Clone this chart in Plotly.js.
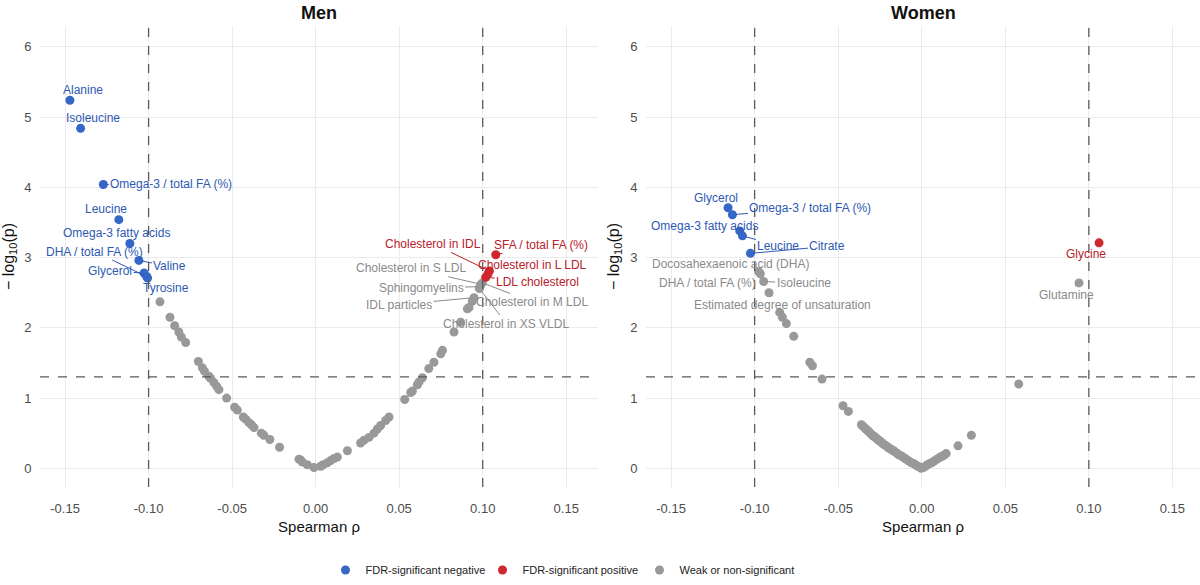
<!DOCTYPE html>
<html>
<head>
<meta charset="utf-8">
<script src="https://cdn.plot.ly/plotly-3.0.1.min.js"></script>
<style>
  html, body { margin: 0; padding: 0; background: #fff; }
  #chart { width: 1200px; height: 585px; }
</style>
</head>
<body>
<div id="chart"></div>
<script>
// ---- data ----
var xTicks = [-0.15, -0.10, -0.05, 0.00, 0.05, 0.10, 0.15];
var xTickText = ["-0.15", "-0.10", "-0.05", "0.00", "0.05", "0.10", "0.15"];
var yTicks = [0, 1, 2, 3, 4, 5, 6];
var rhoCut = 0.1;
var pCut = 1.301; // -log10(0.05)

// Men
var menBlueX = [-0.1471, -0.1407, -0.1271, -0.1178, -0.1112, -0.1012, -0.1058, -0.1027, -0.1006];
var menBlueY = [5.24, 4.84, 4.04, 3.54, 3.20, 2.73, 2.96, 2.78, 2.71];
var menBlueLab = ["Alanine", "Isoleucine", "Omega-3 / total FA (%)", "Leucine", "Omega-3 fatty acids",
                  "DHA / total FA (%)", "Valine", "Glycerol", "Tyrosine"];

var menRedX = [0.1078, 0.1040, 0.1032, 0.1018];
var menRedY = [3.04, 2.81, 2.77, 2.72];
var menRedLab = ["SFA / total FA (%)", "Cholesterol in IDL", "Cholesterol in L LDL", "LDL cholesterol"];

var menGrayX = [-0.0932, -0.0872, -0.0844, -0.0819, -0.0804, -0.0778, -0.0702, -0.0678, -0.0665, -0.0639,
                -0.0629, -0.0609, -0.0593, -0.0579, -0.0533, -0.0485, -0.0469, -0.0433, -0.0419, -0.0399,
                -0.0385, -0.0369, -0.0325, -0.0310, -0.0274, -0.0216, -0.0100, -0.0090, -0.0080, -0.0050,
                -0.0010, 0.0030, 0.0045, 0.0070, 0.0090, 0.0110, 0.0130, 0.0190, 0.0269, 0.0289,
                0.0319, 0.0349, 0.0369, 0.0389, 0.0419, 0.0439, 0.0533, 0.0569, 0.0579, 0.0609,
                0.0619, 0.0639, 0.0677, 0.0708, 0.0749, 0.0759, 0.0828, 0.0868, 0.0908, 0.0918,
                0.0938, 0.0948, 0.0984, 0.0990, 0.0998, 0.0980];
var menGrayY = [2.37, 2.15, 2.03, 1.94, 1.87, 1.79, 1.52, 1.43, 1.38, 1.31,
                1.28, 1.22, 1.17, 1.12, 1.00, 0.87, 0.83, 0.73, 0.70, 0.65,
                0.62, 0.58, 0.50, 0.47, 0.41, 0.30, 0.13, 0.12, 0.09, 0.05,
                0.01, 0.03, 0.05, 0.08, 0.11, 0.14, 0.16, 0.25, 0.36, 0.40,
                0.44, 0.50, 0.56, 0.61, 0.68, 0.73, 0.98, 1.08, 1.10, 1.19,
                1.23, 1.29, 1.42, 1.51, 1.63, 1.68, 1.94, 2.08, 2.27, 2.29,
                2.38, 2.43, 2.585, 2.62, 2.64, 2.56];
var menGrayLab = ["", "", "", "", "", "", "", "", "", "",
                  "", "", "", "", "", "", "", "", "", "",
                  "", "", "", "", "", "", "", "", "", "",
                  "", "", "", "", "", "", "", "", "", "",
                  "", "", "", "", "", "", "", "", "", "",
                  "", "", "", "", "", "", "", "", "", "",
                  "", "IDL particles", "Sphingomyelins", "Cholesterol in S LDL", "Cholesterol in M LDL", "Cholesterol in XS VLDL"];

// Women
var womenBlueX = [-0.1159, -0.1133, -0.1089, -0.1073, -0.1025];
var womenBlueY = [3.71, 3.61, 3.38, 3.31, 3.06];
var womenBlueLab = ["Glycerol", "Omega-3 / total FA (%)", "Omega-3 fatty acids", "Leucine", "Citrate"];

var womenRedX = [0.1061];
var womenRedY = [3.21];
var womenRedLab = ["Glycine"];

var womenGrayX = [-0.0976, -0.0966, -0.0946, -0.0914, -0.0850, -0.0834, -0.0810, -0.0766, -0.0670, -0.0654,
                  -0.0597, -0.0471, -0.0439, -0.0361, -0.0352, -0.0343, -0.0334, -0.0325, -0.0317, -0.0308,
                  -0.0300, -0.0290, -0.0282, -0.0272, -0.0263, -0.0255, -0.0246, -0.0236, -0.0228, -0.0218,
                  -0.0208, -0.0198, -0.0188, -0.0178, -0.0168, -0.0158, -0.0146, -0.0135, -0.0125, -0.0112,
                  -0.0100, -0.0088, -0.0075, -0.0062, -0.0050, -0.0038, -0.0025, -0.0012, -0.0003, 0.0010,
                  0.0022, 0.0035, 0.0048, 0.0060, 0.0072, 0.0085, 0.0098, 0.0110, 0.0122, 0.0135,
                  0.0146, 0.0217, 0.0297, 0.0580, 0.0941];
var womenGrayY = [2.80, 2.77, 2.66, 2.50, 2.22, 2.15, 2.06, 1.88, 1.51, 1.46,
                  1.27, 0.89, 0.81, 0.62, 0.60, 0.58, 0.56, 0.54, 0.52, 0.50,
                  0.48, 0.46, 0.45, 0.43, 0.41, 0.39, 0.38, 0.36, 0.34, 0.33,
                  0.31, 0.29, 0.28, 0.26, 0.25, 0.23, 0.21, 0.19, 0.18, 0.16,
                  0.14, 0.12, 0.10, 0.08, 0.07, 0.05, 0.03, 0.02, 0.00, 0.01,
                  0.03, 0.05, 0.07, 0.08, 0.10, 0.12, 0.14, 0.16, 0.17, 0.19,
                  0.21, 0.32, 0.47, 1.20, 2.64];
var womenGrayLab = ["Docosahexaenoic acid (DHA)", "DHA / total FA (%)", "Isoleucine", "Estimated degree of unsaturation", "", "", "", "", "", "",
                    "", "", "", "", "", "", "", "", "", "",
                    "", "", "", "", "", "", "", "", "", "",
                    "", "", "", "", "", "", "", "", "", "",
                    "", "", "", "", "", "", "", "", "", "",
                    "", "", "", "", "", "", "", "", "", "",
                    "", "", "", "", "Glutamine"];

// ---- label offsets (pixels, label centre relative to point) ----
var labelOffset = {
  "x|Alanine": [13, -10], "x|Isoleucine": [12, -10], "x|Omega-3 / total FA (%)": [68, -1],
  "x|Leucine": [-13, -11], "x|Omega-3 fatty acids": [-13, -11], "x|DHA / total FA (%)": [-52, -25],
  "x|Valine": [31, 6], "x|Glycerol": [-34, -2], "x|Tyrosine": [18, 10],
  "x|SFA / total FA (%)": [45, -10], "x|Cholesterol in IDL": [-56, -27],
  "x|Cholesterol in L LDL": [44, -9], "x|LDL cholesterol": [52, 5],
  "x|IDL particles": [-75, 7], "x|Sphingomyelins": [-59, 1], "x|Cholesterol in S LDL": [-70, -16],
  "x|Cholesterol in M LDL": [50, 19], "x|Cholesterol in XS VLDL": [27, 35],
  "x2|Glycerol": [-12, -10], "x2|Omega-3 / total FA (%)": [78, -7], "x2|Omega-3 fatty acids": [-35, -5],
  "x2|Leucine": [36, 10], "x2|Citrate": [77, -7], "x2|Glycine": [-13, 11],
  "x2|Docosahexaenoic acid (DHA)": [-28, -8], "x2|DHA / total FA (%)": [-53, 9],
  "x2|Isoleucine": [40, 2], "x2|Estimated degree of unsaturation": [13, 12], "x2|Glutamine": [-13, 12]
};

var blue = "#3567c6", red = "#d0262d", grey = "#999999";
var blueTxt = "#2d59b3", redTxt = "#b8202a", greyTxt = "#8a8a8a";
var font = "Liberation Sans, Arial, sans-serif";

function pts(x, y, color, name, xa, ya, show){
    return {
        x: x, y: y, type: 'scatter', mode: 'markers', name: name,
        legendgroup: name, showlegend: show, xaxis: xa, yaxis: ya,
        marker: {color: color, size: 9}, hoverinfo: 'skip'
    };
}

var annotations = [];
function labels(x, y, lab, color, xa, ya){
    for(var i = 0; i < lab.length; i++){
        if(lab[i] == "") continue;
        var off = labelOffset[xa + "|" + lab[i]] || [0, -12];
        annotations.push({
            x: x[i], y: y[i], xref: xa, yref: ya, text: lab[i],
            showarrow: true, arrowhead: 0, arrowwidth: 1, arrowcolor: color,
            ax: off[0], ay: off[1], standoff: 3, startstandoff: 0,
            font: {family: font, size: 12, color: color}
        });
    }
}

var data = [
    pts(menGrayX, menGrayY, grey, "Weak or non-significant", 'x', 'y', false),
    pts(menBlueX, menBlueY, blue, "FDR-significant negative", 'x', 'y', true),
    pts(menRedX, menRedY, red, "FDR-significant positive", 'x', 'y', true),
    pts(womenGrayX, womenGrayY, grey, "Weak or non-significant", 'x2', 'y2', true),
    pts(womenBlueX, womenBlueY, blue, "FDR-significant negative", 'x2', 'y2', false),
    pts(womenRedX, womenRedY, red, "FDR-significant positive", 'x2', 'y2', false)
];

labels(menGrayX, menGrayY, menGrayLab, greyTxt, 'x', 'y');
labels(menBlueX, menBlueY, menBlueLab, blueTxt, 'x', 'y');
labels(menRedX, menRedY, menRedLab, redTxt, 'x', 'y');
labels(womenGrayX, womenGrayY, womenGrayLab, greyTxt, 'x2', 'y2');
labels(womenBlueX, womenBlueY, womenBlueLab, blueTxt, 'x2', 'y2');
labels(womenRedX, womenRedY, womenRedLab, redTxt, 'x2', 'y2');

annotations.push({text: "<b>Men</b>", xref: 'x domain', yref: 'paper', x: 0.5, y: 1,
    yanchor: 'bottom', yshift: 1, showarrow: false, font: {family: font, size: 18, color: '#111'}});
annotations.push({text: "<b>Women</b>", xref: 'x2 domain', yref: 'paper', x: 0.5, y: 1,
    yanchor: 'bottom', yshift: 1, showarrow: false, font: {family: font, size: 18, color: '#111'}});

var shapes = [];
['x', 'x2'].forEach(function(xa, k){
    var ya = k == 0 ? 'y' : 'y2';
    [-rhoCut, rhoCut].forEach(function(v){
        shapes.push({type: 'line', xref: xa, yref: ya + ' domain', x0: v, x1: v, y0: 0, y1: 1,
            line: {color: '#5a5a5a', width: 1.3, dash: 'dash'}});
    });
    shapes.push({type: 'line', xref: xa + ' domain', yref: ya, x0: 0, x1: 1, y0: pCut, y1: pCut,
        line: {color: '#5a5a5a', width: 1.3, dash: 'dash'}});
});

function xaxis(dom, range){
    return {
        domain: dom, range: range, tickvals: xTicks, ticktext: xTickText,
        showgrid: true, gridcolor: '#ebebeb', gridwidth: 1, zeroline: false, showline: false,
        ticks: 'outside', ticklen: 9, tickcolor: 'rgba(0,0,0,0)',
        tickfont: {family: font, size: 13, color: '#4d4d4d'},
        title: {text: "Spearman ρ", font: {family: font, size: 15, color: '#111'}, standoff: 6}
    };
}
function yaxis(anchor){
    return {
        domain: [0, 1], range: [-0.266, 6.297], tickvals: yTicks, anchor: anchor,
        showgrid: true, gridcolor: '#ebebeb', gridwidth: 1, zeroline: false, showline: false,
        ticks: 'outside', ticklen: 5, tickcolor: 'rgba(0,0,0,0)',
        tickfont: {family: font, size: 13, color: '#4d4d4d'},
        title: {text: "− log<sub>10</sub>(p)", font: {family: font, size: 16, color: '#111'}, standoff: 6}
    };
}

var layout = {
    width: 1200, height: 585,
    margin: {l: 0, r: 0, t: 26, b: 91},
    paper_bgcolor: '#fff', plot_bgcolor: '#fff',
    font: {family: font},
    xaxis: xaxis([40/1200, 598/1200], [-0.165, 0.169]),
    xaxis2: xaxis([646/1200, 1], [-0.165, 0.1665]),
    yaxis: yaxis('x'),
    yaxis2: yaxis('x2'),
    shapes: shapes,
    annotations: annotations,
    showlegend: true,
    legend: {orientation: 'h', x: 0.4675, xanchor: 'center', y: -0.18, yanchor: 'middle',
        font: {family: font, size: 11, color: '#222'}, traceorder: 'normal',
        entrywidth: 112, entrywidthmode: 'pixels', itemwidth: 30},
    hovermode: false
};
layout.xaxis2.anchor = 'y2';
layout.xaxis.anchor = 'y';

Plotly.newPlot('chart', data, layout, {displayModeBar: false, staticPlot: true});
</script>
</body>
</html>
